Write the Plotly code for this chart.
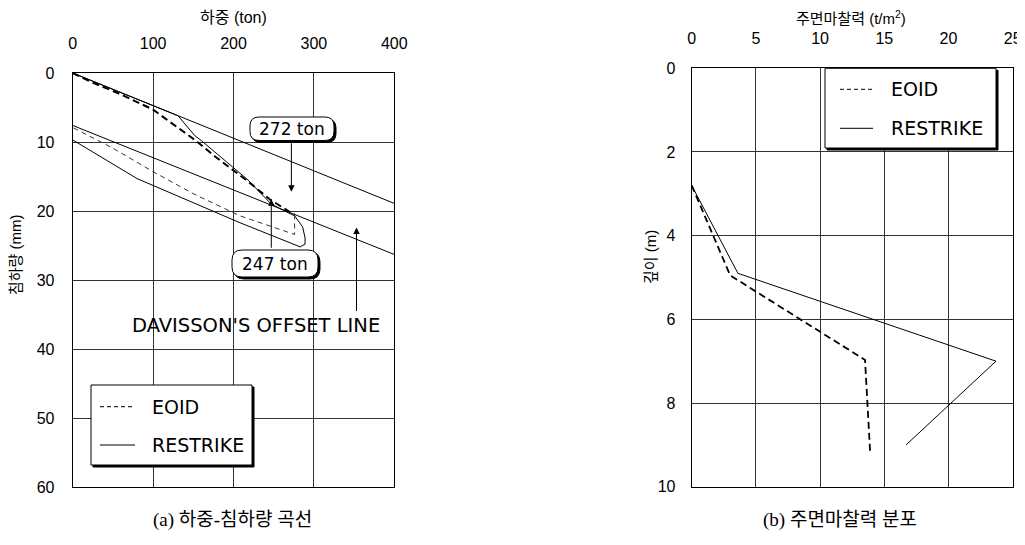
import plotly.graph_objects as go

# page body has an 8px margin; the figure is placed so the whole 1025x545 window matches
OFF = 8
W, H = 1025 - OFF, 545 - 2 * OFF

# ---------------- data: (a) load-settlement ----------------
eoid_load = [0, 25, 56, 77, 100, 114, 143, 152, 177, 218, 245, 258, 272, 276, 276, 208, 150, 100, 50, 0]
eoid_settle = [0, 1.4, 2.9, 4.1, 5.3, 6.5, 8.9, 9.7, 12.1, 15.7, 18.3, 19.3, 20.3, 20.5, 23.4, 20.7, 17.5, 14.3, 10.9, 7.9]
eoid_split = 14  # loading part ends here

restrike_load = [0, 50, 100, 131, 152, 160, 218, 247, 262, 276, 286, 289, 289, 283, 208, 80, 0]
restrike_settle = [0, 2.35, 4.7, 6.2, 9.1, 9.8, 15.5, 19.0, 19.9, 20.7, 22.3, 23.9, 24.8, 25.2, 21.7, 15.3, 9.7]

davisson_load = [0, 400]
elastic_settle = [0, 18.9]
offset_settle = [7.6, 26.3]

load_ticks = [0, 100, 200, 300, 400]
settle_ticks = [0, 10, 20, 30, 40, 50, 60]

# ---------------- data: (b) skin friction ----------------
eoid_depth = [2.8, 4.5, 4.95, 6.97, 9.2]
eoid_fric = [0, 2.4, 3.0, 13.5, 13.9]
restrike_depth = [2.8, 4.9, 7.0, 9.0]
restrike_fric = [0, 3.6, 23.7, 16.7]

fric_ticks = [0, 5, 10, 15, 20, 25]
depth_ticks = [0, 2, 4, 6, 8, 10]

series_names = ["EOID", "RESTRIKE"]

# ---------------- helpers (window pixel -> paper) ----------------
def PX(x):
    return (x - OFF) / W

def PY(y):
    return 1 - (y - OFF) / H

LAT = "Liberation Sans, Arial, sans-serif"
ANN = "DejaVu Sans, sans-serif"
KOR = "Liberation Sans, Noto Sans CJK KR, sans-serif"

fig = go.Figure()

# (a) traces
fig.add_trace(go.Scatter(x=davisson_load, y=elastic_settle, mode="lines",
                         line=dict(color="black", width=1), xaxis="x", yaxis="y", showlegend=False))
fig.add_trace(go.Scatter(x=davisson_load, y=offset_settle, mode="lines",
                         line=dict(color="black", width=1), xaxis="x", yaxis="y", showlegend=False))
fig.add_trace(go.Scatter(x=restrike_load, y=restrike_settle, mode="lines", name=series_names[1],
                         line=dict(color="black", width=1), xaxis="x", yaxis="y", showlegend=False))
fig.add_trace(go.Scatter(x=eoid_load[:eoid_split], y=eoid_settle[:eoid_split], mode="lines", name=series_names[0],
                         line=dict(color="black", width=2, dash="7px,4px"), xaxis="x", yaxis="y", showlegend=False))
fig.add_trace(go.Scatter(x=eoid_load[eoid_split - 1:], y=eoid_settle[eoid_split - 1:], mode="lines",
                         line=dict(color="#333", width=1, dash="5px,4px"), xaxis="x", yaxis="y", showlegend=False))

# (b) traces
fig.add_trace(go.Scatter(x=restrike_fric, y=restrike_depth, mode="lines", name=series_names[1],
                         line=dict(color="black", width=1), xaxis="x2", yaxis="y2", showlegend=False))
fig.add_trace(go.Scatter(x=eoid_fric, y=eoid_depth, mode="lines", name=series_names[0],
                         line=dict(color="black", width=1.8, dash="7px,4px"), xaxis="x2", yaxis="y2", showlegend=False))

axis_common = dict(showgrid=True, gridcolor="#333", gridwidth=1, showline=True, linecolor="black",
                   linewidth=1, mirror=True, zeroline=False, ticks="", automargin=False,
                   tickfont=dict(family=LAT, size=16, color="black"))

fig.update_layout(
    width=W, height=H,
    margin=dict(l=0, r=0, t=0, b=0, pad=0),
    autosize=False,
    paper_bgcolor="white", plot_bgcolor="white",
    showlegend=False,
    xaxis=dict(domain=[PX(72.7), PX(394.3)], range=[0, 400], side="top", tickvals=load_ticks,
               anchor="y", ticklabelstandoff=17, **axis_common),
    yaxis=dict(domain=[PY(487), PY(73)], range=[60, 0], tickvals=settle_ticks,
               anchor="x", ticklabelstandoff=14, **axis_common),
    xaxis2=dict(domain=[PX(691.7), PX(1012.7)], range=[0, 25], side="top", tickvals=fric_ticks,
                anchor="y2", ticklabelstandoff=17, **axis_common),
    yaxis2=dict(domain=[PY(486.7), PY(68.3)], range=[10, 0], tickvals=depth_ticks,
                anchor="x2", ticklabelstandoff=12, **axis_common),
)

shapes = []
annotations = []


def text(t, x, y, font, size, xanchor="center", angle=0):
    annotations.append(dict(text=t, xref="paper", yref="paper", x=PX(x), y=PY(y), xanchor=xanchor,
                            yanchor="middle", textangle=angle, showarrow=False,
                            font=dict(family=font, size=size, color="black")))


def rrect_path(x0, y0, x1, y1, r):
    pts = [("M", [(x0 + r, y0)]), ("L", [(x1 - r, y0)]), ("Q", [(x1, y0), (x1, y0 + r)]),
           ("L", [(x1, y1 - r)]), ("Q", [(x1, y1), (x1 - r, y1)]), ("L", [(x0 + r, y1)]),
           ("Q", [(x0, y1), (x0, y1 - r)]), ("L", [(x0, y0 + r)]), ("Q", [(x0, y0), (x0 + r, y0)])]
    s = ""
    for cmd, ps in pts:
        s += cmd + " " + " ".join(f"{PX(a):.5f},{PY(b):.5f}" for a, b in ps) + " "
    return s + "Z"


def box(x0, y0, x1, y1, r=0, sh=2):
    if r > 0:
        shapes.append(dict(type="path", xref="paper", yref="paper", path=rrect_path(x0 + sh, y0 + sh, x1 + sh, y1 + sh, r),
                           fillcolor="black", line=dict(color="black", width=1)))
        shapes.append(dict(type="path", xref="paper", yref="paper", path=rrect_path(x0, y0, x1, y1, r),
                           fillcolor="white", line=dict(color="black", width=1)))
    else:
        shapes.append(dict(type="rect", xref="paper", yref="paper", x0=PX(x0 + sh), x1=PX(x1 + sh),
                           y0=PY(y1 + sh), y1=PY(y0 + sh), fillcolor="black", line=dict(color="black", width=1)))
        shapes.append(dict(type="rect", xref="paper", yref="paper", x0=PX(x0), x1=PX(x1),
                           y0=PY(y1), y1=PY(y0), fillcolor="white", line=dict(color="black", width=1)))


def legend(x0, y0, x1, y1, lx0, lx1, ys, tx):
    box(x0, y0, x1, y1)
    styles = [dict(color="black", width=1, dash="4px,3px"), dict(color="black", width=1)]
    for name, yy, st in zip(series_names, ys, styles):
        shapes.append(dict(type="line", xref="paper", yref="paper", x0=PX(lx0), x1=PX(lx1),
                           y0=PY(yy), y1=PY(yy), line=st))
        text(name, tx, yy, ANN, 19, xanchor="left")


legend(91, 385, 252, 465, 100, 135, [406.7, 445], 150)
legend(825, 68.3, 996, 148, 840, 873, [89.3, 128.3], 889)

# value boxes
box(250, 117, 334, 140.5, r=9)
text("272 ton", 292, 129, ANN, 17)
box(232, 250, 318, 277, r=10)
text("247 ton", 275, 264, ANN, 17)

# arrows
for ax_x, ax_y, off in [(272, 17.2, -50), (247, 18.3, 50), (353, 22.4, 85)]:
    annotations.append(dict(text="", x=ax_x, y=ax_y, xref="x", yref="y", ax=0, ay=off, showarrow=True,
                            arrowhead=2, arrowsize=1.3, arrowwidth=1, arrowcolor="black"))
text("DAVISSON'S OFFSET LINE", 256, 325, ANN, 19.5)

# axis titles
text("하중 (ton)", 233, 18, KOR, 16)
text("침하량 (mm)", 15, 255, KOR, 15, angle=-90)
text("주면마찰력 (t/m<sup>2</sup>)", 851, 18, KOR, 15)
text("깊이 (m)", 650, 257, KOR, 15, angle=-90)

# captions
CAP = "Liberation Serif, Noto Sans CJK KR, serif"
text("(a) 하중-침하량 곡선", 232, 520, CAP, 19)
text("(b) 주면마찰력 분포", 840, 520, CAP, 19)

fig.update_layout(shapes=shapes, annotations=annotations)
fig.write_html("out.html")
